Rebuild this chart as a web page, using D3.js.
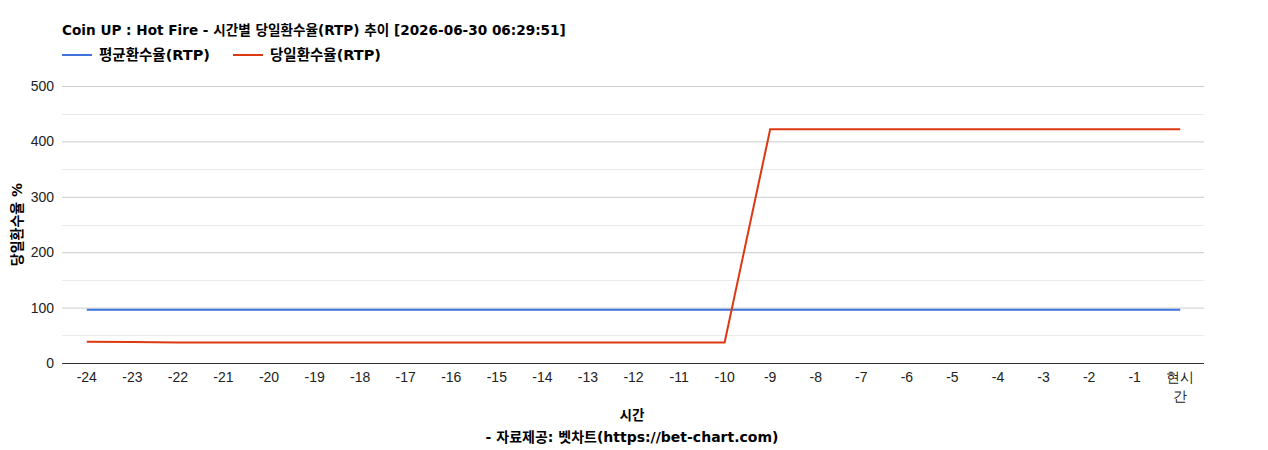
<!DOCTYPE html>
<html lang="ko">
<head>
    <meta charset="UTF-8">
    <title>Coin UP : Hot Fire - 시간별 당일환수율(RTP) 추이</title>
    <script src="https://cdn.jsdelivr.net/npm/d3@7"></script>
    <style>
        body { margin: 0; background: #fff; }
        text { font-family: "Liberation Sans", Arial, sans-serif; }
        .bold { font-family: "DejaVu Sans", "Noto Sans CJK KR", sans-serif; font-weight: bold; }
    </style>
</head>
<body>
</body>
<script>
    // 데이터
    var hours = ['-24', '-23', '-22', '-21', '-20', '-19', '-18', '-17', '-16', '-15', '-14', '-13',
        '-12', '-11', '-10', '-9', '-8', '-7', '-6', '-5', '-4', '-3', '-2', '-1', '현시간'];
    var avgRtp = [96, 96, 96, 96, 96, 96, 96, 96, 96, 96, 96, 96,
        96, 96, 96, 96, 96, 96, 96, 96, 96, 96, 96, 96, 96];
    var dayRtp = [38.5, 38, 37, 37, 37, 37, 37, 37, 37, 37, 37, 37,
        37, 37, 37, 422, 422, 422, 422, 422, 422, 422, 422, 422, 422];
    var yTicks = [0, 100, 200, 300, 400, 500];
    var series = [
        {name: '평균환수율(RTP)', values: avgRtp, color: '#3f73dc'},
        {name: '당일환수율(RTP)', values: dayRtp, color: '#dc3912'}
    ];

    var width = 1268, height = 450;
    var plotL = 64, plotR = 1203, plotT = 86, plotB = 363;

    var svg = d3.select('body').append('svg')
        .attr('width', width)
        .attr('height', height);

    var x = d3.scaleBand().domain(hours).range([plotL, plotR]);
    var y = d3.scaleLinear().domain([0, 500]).range([plotB, plotT]);

    // 보조 눈금선
    svg.append('g').selectAll('line')
        .data(d3.range(50, 500, 100))
        .enter().append('line')
        .attr('x1', plotL - 2).attr('x2', plotR + 1)
        .attr('y1', d => Math.round(y(d)) + 0.5).attr('y2', d => Math.round(y(d)) + 0.5)
        .attr('stroke', '#ebebeb');

    // 주 눈금선
    var yAxis = svg.append('g')
        .attr('transform', 'translate(' + (plotL - 2) + ',0)')
        .call(d3.axisLeft(y).tickValues(yTicks).tickSize(-(plotR - plotL + 3)).tickPadding(8));
    yAxis.select('.domain').remove();
    yAxis.selectAll('.tick line').attr('stroke', '#cccccc');
    yAxis.selectAll('.tick text')
        .attr('font-size', 14).attr('fill', '#222')
        .attr('font-family', '"Liberation Sans", Arial, sans-serif');

    // 기준선
    svg.append('line')
        .attr('x1', plotL - 2).attr('x2', plotR + 1)
        .attr('y1', y(0) + 0.5).attr('y2', y(0) + 0.5)
        .attr('stroke', '#333');

    // x축 라벨
    var xAxis = svg.append('g')
        .attr('transform', 'translate(0,' + plotB + ')')
        .call(d3.axisBottom(x).tickSize(0).tickPadding(9));
    xAxis.select('.domain').remove();
    xAxis.selectAll('.tick text')
        .attr('font-size', 14).attr('fill', '#222')
        .attr('font-family', '"Liberation Sans", Arial, sans-serif')
        .each(function (d) {
            if (d === '현시간') {
                var t = d3.select(this).text('');
                t.append('tspan').attr('x', 0).attr('dy', '0.71em').text('현시');
                t.append('tspan').attr('x', 0).attr('dy', '1.35em').text('간');
                t.attr('dy', null);
            }
        });

    // 라인
    var line = d3.line()
        .x((d, i) => x(hours[i]) + x.bandwidth() / 2)
        .y(d => y(d));

    svg.append('g').selectAll('path')
        .data(series)
        .enter().append('path')
        .attr('d', d => line(d.values))
        .attr('fill', 'none')
        .attr('stroke', d => d.color)
        .attr('stroke-width', 2);

    // 제목
    svg.append('text')
        .attr('class', 'bold')
        .attr('x', 62).attr('y', 35)
        .attr('font-size', 13.6)
        .attr('fill', '#000')
        .text('Coin UP : Hot Fire - 시간별 당일환수율(RTP) 추이 [2026-06-30 06:29:51]');

    // 범례
    var legendX = [62, 233];
    var legend = svg.append('g').selectAll('g')
        .data(series)
        .enter().append('g')
        .attr('transform', (d, i) => 'translate(' + legendX[i] + ',55)');
    legend.append('line')
        .attr('x1', 0).attr('x2', 30)
        .attr('stroke', d => d.color)
        .attr('stroke-width', 2);
    legend.append('text')
        .attr('class', 'bold')
        .attr('x', 37).attr('y', 5)
        .attr('font-size', 14.5)
        .text(d => d.name);

    // 축 제목
    svg.append('text')
        .attr('class', 'bold')
        .attr('transform', 'translate(22,' + ((plotT + plotB) / 2) + ') rotate(-90)')
        .attr('text-anchor', 'middle')
        .attr('font-size', 14)
        .text('당일환수율 %');

    svg.append('text')
        .attr('class', 'bold')
        .attr('x', 632).attr('y', 420)
        .attr('text-anchor', 'middle')
        .attr('font-size', 13.5)
        .text('시간');
    svg.append('text')
        .attr('class', 'bold')
        .attr('x', 632).attr('y', 442)
        .attr('text-anchor', 'middle')
        .attr('font-size', 14)
        .text('- 자료제공: 벳차트(https://bet-chart.com)');
</script>
</html>
